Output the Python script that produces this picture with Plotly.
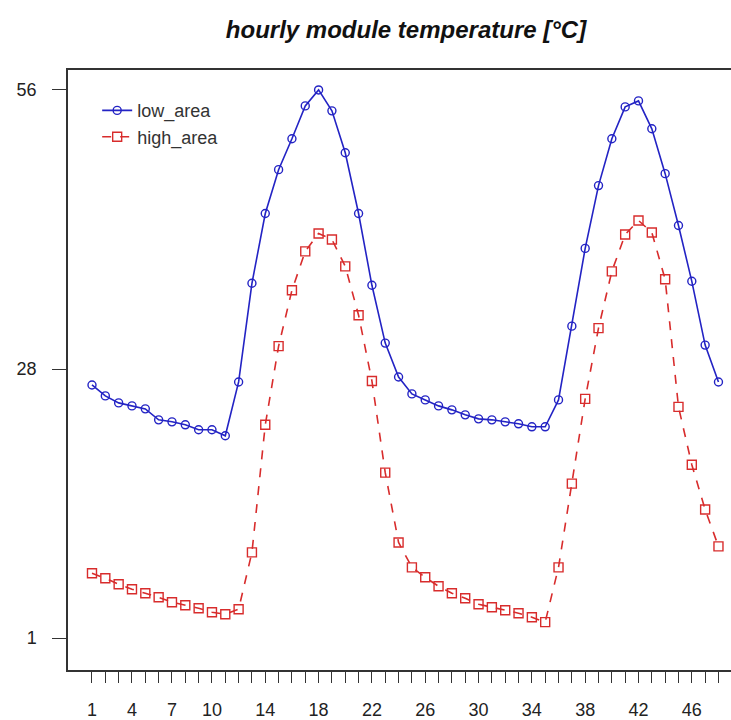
import plotly.graph_objects as go

hours = list(range(1, 49))
x_tick_labels = ["1", "4", "7", "10", "14", "18", "22", "26", "30", "34", "38", "42", "46"]
y_tick_values = [1, 28, 56]

low_area = [26.4, 25.3, 24.6, 24.3, 24.0, 22.9, 22.7, 22.4, 21.9, 21.9, 21.3, 26.7,
            36.6, 43.6, 48.0, 51.1, 54.4, 56.0, 53.9, 49.7, 43.6, 36.4, 30.6, 27.2,
            25.5, 24.9, 24.3, 23.9, 23.4, 23.0, 22.9, 22.7, 22.5, 22.2, 22.2, 24.9,
            32.3, 40.1, 46.4, 51.1, 54.3, 54.9, 52.1, 47.6, 42.4, 36.8, 30.4, 26.7]
high_area = [7.5, 7.0, 6.4, 5.9, 5.5, 5.1, 4.6, 4.3, 4.0, 3.6, 3.4, 3.9,
             9.6, 22.4, 30.3, 35.9, 39.8, 41.6, 41.0, 38.3, 33.4, 26.8, 17.6, 10.6,
             8.1, 7.1, 6.2, 5.5, 5.0, 4.4, 4.1, 3.8, 3.5, 3.1, 2.6, 8.1,
             16.5, 25.0, 32.1, 37.8, 41.5, 42.9, 41.7, 37.0, 24.2, 18.4, 13.9, 10.2]

BLUE = "#2323c4"
RED = "#d82c2c"
FONT = "Liberation Sans, Arial, sans-serif"

ticktext = [str(h) if str(h) in x_tick_labels else "" for h in hours]

fig = go.Figure()
fig.add_trace(go.Scatter(
    x=hours, y=low_area, name="low_area", mode="lines+markers",
    line=dict(color=BLUE, width=1.6),
    marker=dict(symbol="circle-open", size=8, color=BLUE, line=dict(width=1.4)),
))
fig.add_trace(go.Scatter(
    x=hours, y=high_area, name="high_area", mode="lines+markers",
    line=dict(color=RED, width=1.6, dash="dash"),
    marker=dict(symbol="square-open", size=9, color=RED, line=dict(width=1.4)),
))

fig.update_layout(
    width=731, height=720,
    margin=dict(l=68, r=0, t=70, b=50),
    paper_bgcolor="white", plot_bgcolor="white",
    font=dict(family=FONT, color="#222222", size=18),
    title=dict(text="<b><i>hourly module temperature [°C]</i></b>",
               x=406 / 731, xanchor="center", y=1 - 30 / 720, yanchor="middle",
               yref="container", font=dict(size=24, color="#111111")),
    showlegend=True,
    legend=dict(x=0.044, y=0.963, xanchor="left", yanchor="top",
                bgcolor="rgba(0,0,0,0)", font=dict(size=18, color="#333333"),
                tracegroupgap=0),
    xaxis=dict(range=[-0.8, 48.94], tickvals=hours, ticktext=ticktext,
               showgrid=False, zeroline=False, showline=True, mirror=True,
               linecolor="#333333", linewidth=1.5,
               ticks="outside", ticklen=11, tickwidth=1.2, tickcolor="#333333",
               ticklabelstandoff=12, tickangle=0),
    yaxis=dict(range=[-2.2, 58.0], tickvals=y_tick_values,
               showgrid=False, zeroline=False, showline=True, mirror=False,
               linecolor="#333333", linewidth=1.5,
               ticks="outside", ticklen=14, tickwidth=1.2, tickcolor="#333333",
               ticklabelstandoff=12),
)

fig.write_html(
    "out.html",
    config={"displayModeBar": False},
    post_script="document.body.style.margin='0';document.body.style.overflow='hidden';"
                "document.documentElement.style.overflow='hidden';",
)
